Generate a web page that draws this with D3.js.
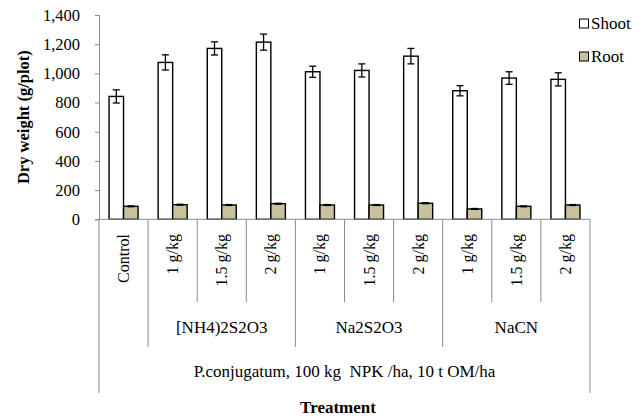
<!DOCTYPE html>
<html><head><meta charset="utf-8">
<script src="https://cdn.jsdelivr.net/npm/d3@7/dist/d3.min.js"></script>
<style>body{margin:0;background:#fff}svg{display:block;font-family:"Liberation Serif","Times New Roman",serif}text{white-space:pre}</style>
</head><body><svg id="c" width="644" height="419"></svg>
<script>
const categories = ["Control","1 g/kg","1.5 g/kg","2 g/kg","1 g/kg","1.5 g/kg","2 g/kg","1 g/kg","1.5 g/kg","2 g/kg"];
const groupNames = ["", "[NH4)2S2O3", "Na2S2O3", "NaCN"];
const groupSizes = [1, 3, 3, 3];
const topLabel = "P.conjugatum, 100 kg  NPK /ha, 10 t OM/ha";
const shoot = [842,1075,1171,1214,1011,1020,1118,881,968,959];
const shootErr = [45,52,45,55,38,45,53,35,43,45];
const root = [89,100,98,107,98,98,110,71,89,98];
const rootErr = [3,3,3,3,3,3,3,3,3,3];
const yTicks = [0,200,400,600,800,1000,1200,1400];
const seriesNames = ["Shoot","Root"];
const colors = ["#ffffff","#c9c19c"];

const svg = d3.select("#c");
const x0 = 99, x1 = 590, yB = 219.3, yT = 15;
const idx = categories.map((d,i)=>i);
const x = d3.scaleBand().domain(idx).range([x0,x1]).padding(0);
const y = d3.scaleLinear().domain([0,1400]).range([yB,yT]);
const bw = 14.5;
const gray = "#8c8c8c";

// y axis
const ax = svg.append("g").attr("transform",`translate(${x0},0)`)
  .call(d3.axisLeft(y).tickValues(yTicks).tickSize(4).tickPadding(15).tickFormat(d3.format(",")));
ax.select(".domain").attr("stroke",gray);
ax.selectAll(".tick line").attr("stroke",gray);
ax.selectAll("text").attr("font-size",16.5).attr("fill","#000").attr("font-family","Liberation Serif");

svg.append("text").attr("transform",`translate(29,${(yB+yT)/2}) rotate(-90)`)
  .attr("text-anchor","middle").attr("font-weight","bold").attr("font-size",16.5).text("Dry weight (g/plot)");

// bars
const series = [shoot, root], errs = [shootErr, rootErr];
series.forEach((vals,s)=>{
  const g = svg.append("g");
  g.selectAll("rect").data(vals).join("rect")
    .attr("x",(d,i)=>x(i)+x.bandwidth()/2 - bw + s*bw)
    .attr("y",d=>y(d)).attr("width",bw).attr("height",d=>yB-y(d))
    .attr("fill",colors[s]).attr("stroke","#000").attr("stroke-width",1.4);
  const e = svg.append("g").attr("stroke","#000").attr("stroke-width",1.3);
  vals.forEach((v,i)=>{
    const cx = x(i)+x.bandwidth()/2 - bw/2 + s*bw;
    const hi = y(v+errs[s][i]), lo = y(v-errs[s][i]);
    e.append("line").attr("x1",cx).attr("x2",cx).attr("y1",hi).attr("y2",lo);
    e.append("line").attr("x1",cx-3.5).attr("x2",cx+3.5).attr("y1",hi).attr("y2",hi);
    e.append("line").attr("x1",cx-3.5).attr("x2",cx+3.5).attr("y1",lo).attr("y2",lo);
  });
});

// x axis multi-level
const xa = svg.append("g").attr("stroke",gray).attr("stroke-width",1);
xa.append("line").attr("x1",x0).attr("x2",x1).attr("y1",yB).attr("y2",yB);
let starts = [0]; groupSizes.forEach((n,k)=>starts.push(starts[k]+n));
idx.forEach(i=>{
  if(i===0) return;
  const isGroup = starts.includes(i);
  xa.append("line").attr("x1",x(i)).attr("x2",x(i)).attr("y1",yB).attr("y2",isGroup?347:302);
});
xa.append("line").attr("x1",x0).attr("x2",x0).attr("y1",yB).attr("y2",393);
xa.append("line").attr("x1",x1).attr("x2",x1).attr("y1",yB).attr("y2",393);

svg.append("g").selectAll("text").data(categories).join("text")
  .attr("transform",(d,i)=>`translate(${x(i)+x.bandwidth()/2+5.5},234) rotate(-90)`)
  .attr("text-anchor","end").attr("font-size",16).text(d=>d);

svg.append("g").selectAll("text").data(groupNames).join("text")
  .attr("x",(d,k)=>(x(starts[k])+x(starts[k+1]-1)+x.bandwidth())/2)
  .attr("y",333).attr("text-anchor","middle").attr("font-size",17).text(d=>d);

svg.append("text").attr("x",(x0+x1)/2).attr("y",377).attr("text-anchor","middle").attr("font-size",17).text(topLabel);
svg.append("text").attr("x",338).attr("y",413).attr("text-anchor","middle").attr("font-size",17).attr("font-weight","bold").text("Treatment");

// legend
const lg = svg.append("g");
seriesNames.forEach((n,s)=>{
  const ly = 19 + s*33;
  lg.append("rect").attr("x",579.5).attr("y",ly).attr("width",9).attr("height",9)
    .attr("fill",colors[s]).attr("stroke","#000").attr("stroke-width",1);
  lg.append("text").attr("x",591).attr("y",ly+9.5).attr("font-size",17).text(n);
});
</script></body></html>
